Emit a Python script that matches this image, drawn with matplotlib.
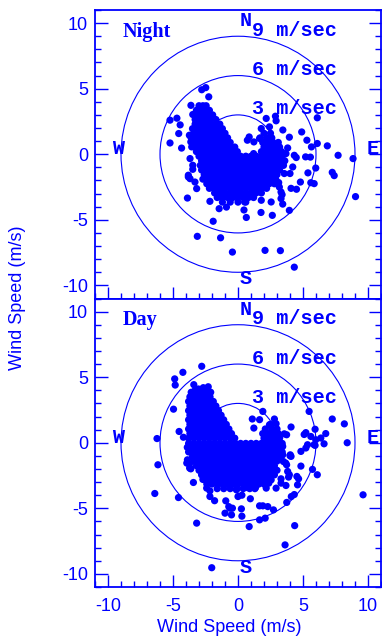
import matplotlib
matplotlib.use("Agg")
import matplotlib.pyplot as plt
from matplotlib.patches import Circle
from matplotlib.ticker import MultipleLocator

plt.rcParams['axes.unicode_minus'] = False
plt.rcParams['font.family'] = ['Liberation Sans', 'DejaVu Sans']

BLUE = '#0000ff'

# ---------------- data ----------------
ring_radii = [3, 6, 9]
ring_labels = ['3 m/sec', '6 m/sec', '9 m/sec']
panel_names = ['Night', 'Day']
compass = ['N', 'S', 'E', 'W']
axis_ticks = [-10, -5, 0, 5, 10]
axis_label = 'Wind Speed (m/s)'

# Night: dense core, read row by row (y of row, x values of dots in row)
night_core_y = [3.7, 3.35, 3.0, 2.65, 2.3, 1.95, 1.6, 1.25, 0.9, 0.55, 0.2,
                -0.15, -0.5, -0.85, -1.2, -1.55, -1.9, -2.25, -2.6, -2.95, -3.3, -3.65]
night_core_x = [
    [-3.0, -2.7, -2.45],
    [-3.2, -2.85, -2.5, -2.2],
    [-3.1, -2.7, -2.3, -1.95],
    [-3.3, -2.9, -2.5, -2.1, -1.7],
    [-3.3, -2.9, -2.5, -2.1, -1.7, -1.4],
    [-3.5, -3.1, -2.7, -2.3, -1.9, -1.5, -1.2],
    [-3.4, -3.0, -2.6, -2.2, -1.8, -1.4, -1.0, 2.0, 2.5],
    [-3.6, -3.2, -2.8, -2.4, -2.0, -1.6, -1.2, -0.8, 1.7, 2.2, 2.6],
    [-3.4, -3.0, -2.6, -2.2, -1.8, -1.4, -1.0, -0.6, 1.9, 2.3, 2.7, 3.1],
    [-3.3, -2.9, -2.5, -2.1, -1.7, -1.3, -0.9, -0.55, -0.25, 2.0, 2.4, 2.8, 3.2],
    [-3.2, -2.8, -2.4, -2.0, -1.6, -1.2, -0.8, -0.4, -0.05, 1.8, 2.2, 2.6, 3.0, 3.35],
    [-3.0, -2.6, -2.2, -1.8, -1.4, -1.0, -0.6, -0.2, 0.2, 0.6, 1.0, 1.4, 1.8, 2.2, 2.6, 3.0, 3.4],
    [-2.8, -2.4, -2.0, -1.6, -1.2, -0.8, -0.4, 0.0, 0.4, 0.8, 1.2, 1.6, 2.0, 2.4, 2.8, 3.2, 3.6],
    [-2.9, -2.5, -2.1, -1.7, -1.3, -0.9, -0.5, -0.1, 0.3, 0.7, 1.1, 1.5, 1.9, 2.3, 2.7, 3.1, 3.5],
    [-2.8, -2.4, -2.0, -1.6, -1.2, -0.8, -0.4, 0.0, 0.4, 0.8, 1.2, 1.6, 2.0, 2.4, 2.8, 3.2],
    [-2.6, -2.2, -1.8, -1.4, -1.0, -0.6, -0.2, 0.2, 0.6, 1.0, 1.4, 1.8, 2.2, 2.6, 3.0],
    [-2.7, -2.3, -1.9, -1.5, -1.1, -0.7, -0.3, 0.1, 0.5, 0.9, 1.3, 1.7, 2.1, 2.5, 2.9],
    [-2.4, -2.0, -1.6, -1.2, -0.8, -0.4, 0.0, 0.4, 0.8, 1.2, 1.6, 2.0, 2.4, 2.8],
    [-2.2, -1.8, -1.4, -1.0, -0.6, -0.2, 0.2, 0.6, 1.0, 1.4, 1.8, 2.2],
    [-1.8, -1.4, -1.0, -0.6, -0.2, 0.2, 0.6, 1.0, 1.4, 1.8],
    [-1.6, -1.2, -0.8, -0.4, 0.0, 0.4, 0.8, 1.2],
    [-1.2, -0.6, 0.0, 0.6],
]
# Night: scattered dots
night_x = [-2.79, -2.48, -2.25, -3.62, -5.23, -4.70, -4.45, -4.56, -5.23, -4.34, -3.69, -3.48,
           -3.48, -3.74, -3.63, -3.56,
           2.17, 2.88, 2.93, 1.79, 2.42, 3.45, 3.95, 0.86, 1.66, 1.22, 0.72, 1.20,
           6.10, 4.90, 5.30, 5.65, 6.10, 6.87, 7.70, 8.85, 4.33, 4.48, 5.20, 5.57, 5.98,
           3.82, 3.69, 3.31,
           4.21, 4.00, 3.56, 3.13, 5.38, 7.25, 7.40, 9.04, 4.08, 4.50, 4.80, 5.60, 5.86,
           3.31, 3.39, 3.44, 3.95, 2.64, 1.77, 0.64, 0.46, -1.91, -3.13, -1.34, -0.43,
           2.08, 3.26, 4.33, 2.55, 1.79, 0.51, -0.89, -1.45, -2.16, 3.18, 3.31,
           -3.89, -3.82, -3.69, -3.31, -3.18, -3.48, -3.82]
night_y = [4.92, 5.08, 4.38, 3.73, 2.60, 2.75, 2.24, 1.58, 0.86, 0.47, -0.33, -0.84,
           3.03, 1.45, 0.94, 0.56,
           2.73, 2.90, 2.55, 1.96, 2.09, 1.85, 1.30, 1.32, 1.20, 0.94, 1.07, 0.05,
           2.78, 1.70, 1.07, 0.56, 0.82, 0.64, -0.08, -0.33, -0.08, -0.25, -0.20, -0.22, -1.05,
           0.48, 0.05, 0.18,
           -0.97, -1.47, -1.47, -2.16, -1.42, -1.38, -1.63, -3.23, -2.60, -2.67, -2.12, -2.17, -2.24,
           -3.38, -3.08, -3.80, -4.28, -4.66, -4.44, -4.82, -4.25, -5.11, -6.26, -6.37, -7.46,
           -7.33, -7.35, -8.61, -3.64, -3.51, -3.64, -4.03, -4.15, -3.59, -2.50, -2.88,
           -3.34, -1.73, -1.86, -2.12, -2.62, -1.15, -1.60]

# Day: dense core
day_core_y = [3.85, 3.5, 3.15, 2.8, 2.45, 2.1, 1.75, 1.4, 1.05, 0.7, 0.35, -0.05,
              -0.35, -0.7, -1.05, -1.4, -1.75, -2.1, -2.45, -2.8, -3.15, -3.5]
day_core_x = [
    [-3.6, -3.2, -2.8, -2.4, -2.1],
    [-3.7, -3.3, -2.9, -2.5, -2.15],
    [-3.8, -3.4, -3.0, -2.6, -2.2, -1.9],
    [-3.7, -3.3, -2.9, -2.5, -2.1, -1.7],
    [-3.8, -3.4, -3.0, -2.6, -2.2, -1.8, -1.5],
    [-3.7, -3.3, -2.9, -2.5, -2.1, -1.7, -1.3],
    [-3.8, -3.4, -3.0, -2.6, -2.2, -1.8, -1.4, -1.1],
    [-3.7, -3.3, -2.9, -2.5, -2.1, -1.7, -1.3, -0.9, 2.5],
    [-3.8, -3.4, -3.0, -2.6, -2.2, -1.8, -1.4, -1.0, -0.7, 2.1, 2.6, 3.0],
    [-3.7, -3.3, -2.9, -2.5, -2.1, -1.7, -1.3, -0.9, -0.5, 1.9, 2.3, 2.7, 3.1],
    [-3.8, -3.4, -3.0, -2.6, -2.2, -1.8, -1.4, -1.0, -0.6, -0.25, 2.0, 2.4, 2.8, 3.2],
    [-3.8, -3.4, -3.0, -2.6, -2.2, -1.8, -1.4, -1.0, -0.6, -0.2, 0.2, 0.6, 1.0, 1.4, 1.8, 2.2, 2.6, 3.0, 3.4],
    [-3.9, -3.5, -3.1, -2.7, -2.3, -1.9, -1.5, -1.1, -0.7, -0.3, 0.1, 0.5, 0.9, 1.3, 1.7, 2.1, 2.5, 2.9, 3.3],
    [-3.8, -3.4, -3.0, -2.6, -2.2, -1.8, -1.4, -1.0, -0.6, -0.2, 0.2, 0.6, 1.0, 1.4, 1.8, 2.2, 2.6, 3.0, 3.4],
    [-3.5, -3.1, -2.7, -2.3, -1.9, -1.5, -1.1, -0.7, -0.3, 0.1, 0.5, 0.9, 1.3, 1.7, 2.1, 2.5, 2.9, 3.3],
    [-3.4, -3.0, -2.6, -2.2, -1.8, -1.4, -1.0, -0.6, -0.2, 0.2, 0.6, 1.0, 1.4, 1.8, 2.2, 2.6, 3.0],
    [-3.2, -2.8, -2.4, -2.0, -1.6, -1.2, -0.8, -0.4, 0.0, 0.4, 0.8, 1.2, 1.6, 2.0, 2.4, 2.8],
    [-3.0, -2.6, -2.2, -1.8, -1.4, -1.0, -0.6, -0.2, 0.2, 0.6, 1.0, 1.4, 1.8, 2.2, 2.6, 3.0],
    [-2.8, -2.4, -2.0, -1.6, -1.2, -0.8, -0.4, 0.0, 0.4, 0.8, 1.2, 1.6, 2.0, 2.4, 2.8],
    [-2.7, -2.3, -1.9, -1.5, -1.1, -0.7, -0.3, 0.1, 0.5, 0.9, 1.3, 1.7, 2.1, 2.5],
    [-2.4, -2.0, -1.6, -1.2, -0.8, -0.4, 0.0, 0.4, 0.8, 1.2, 1.6, 2.0],
    [-1.6, -1.1, -0.6, -0.1, 0.4, 0.9, 1.3],
]
# Day: scattered dots
day_x = [-2.79, -4.24, -4.87, -4.83, -3.40, -3.05, -2.67, -2.29, -3.30,
         -4.96, -4.53, -4.20, -6.23,
         -6.16, -6.40, -4.58, -3.18, -3.43, -3.94, -3.72, -3.89, -3.74, -3.63, -2.02,
         0.86, 1.66, 2.09, 3.62, 4.36, 9.62, 0.26, 0.30,
         -0.94, -0.63, -0.50, -1.00, -1.80, 1.66, 1.91, 2.29, 2.73, 0.95, 0.00, 0.30,
         3.75, 4.10, 4.33, 4.58, 4.53, 4.84, 5.73, 6.10, 3.44, 4.00, 3.67, 3.74, 3.89,
         2.93, 2.37, 2.55, 3.31, -0.71, -0.43, -2.16, -2.16, -2.41, 3.69, 2.17, 1.35,
         0.64, -0.12, 3.82, 3.95, 3.31, 4.66, 4.08, 3.49,
         1.91, 1.10, 1.66, 1.22, 2.80, 2.42, 2.93, 4.08, 3.56, 3.74, 5.47, 7.25, 8.18,
         5.93, 5.22, 5.60, 5.09, 6.37, 6.75, 6.62, 5.98, 8.40, 5.93, 5.35, 4.84, 5.22,
         4.02, 3.44, 5.85]
day_y = [5.83, 5.37, 4.87, 4.40, 4.43, 4.10, 4.20, 4.27, 4.00,
         2.56, 0.86, 0.42, 0.32,
         -1.68, -3.87, -4.18, -6.13, -3.03, -1.55, -1.93, -1.30, -1.63, -1.99, -9.53,
         -6.39, -5.88, -5.75, -7.79, -6.32, -3.97, -5.04, -5.60,
         -4.43, -4.99, -5.50, -5.37, -4.42, -4.81, -4.81, -4.87, -5.12, -4.27, -4.10, -4.00,
         -4.55, -4.10, -3.95, -3.21, -2.57, -1.78, -2.03, -2.44, -0.92, -0.99, -1.55, -1.68, -2.62,
         -3.46, -3.08, -2.83, -3.08, -4.87, -4.99, -4.10, -3.67, -3.46, -3.26, -3.46, -3.41,
         -3.41, -3.59, -2.19, -2.44, -2.75, -2.75, -1.04, -1.43,
         2.39, 1.81, 1.76, 1.12, 1.81, 1.37, 1.45, 1.20, 0.68, 0.61, 2.39, 1.81, 1.44,
         1.03, 0.77, 0.48, 0.63, 0.36, 0.70, -0.08, 0.23, 0.00, -0.20, -0.15, -0.66, -0.40,
         -0.92, -0.28, -0.15]


def flatten(rows_y, rows_x):
    xs, ys = [], []
    for yv, row in zip(rows_y, rows_x):
        for xv in row:
            xs.append(xv)
            ys.append(yv)
    return xs, ys


panels = [
    (panel_names[0], flatten(night_core_y, night_core_x), (night_x, night_y)),
    (panel_names[1], flatten(day_core_y, day_core_x), (day_x, day_y)),
]

# ---------------- figure ----------------
fig = plt.figure(figsize=(3.82, 6.42), dpi=100)
W, H = 382.0, 642.0
ax_top = fig.add_axes([95 / W, 1 - 298.5 / H, 286 / W, 288.5 / H])
ax_bot = fig.add_axes([95 / W, 1 - 587 / H, 286 / W, 288.5 / H])

mono_fam = ['Liberation Mono', 'DejaVu Sans Mono']
name_style = dict(family=['Liberation Serif', 'DejaVu Serif'], weight='bold',
                  size=14.5, color=BLUE)
lab_style = dict(family=mono_fam, weight='bold', size=14.5, color=BLUE)

for ax, (name, (cx, cy), (sx, sy)) in zip([ax_top, ax_bot], panels):
    ax.set_xlim(-11, 11)
    ax.set_ylim(-11, 11)
    for r in ring_radii:
        ax.add_patch(Circle((0, 0), r, fill=False, ec=BLUE, lw=0.8, zorder=2))
    ax.scatter(cx, cy, s=27, c=BLUE, edgecolors='none', zorder=3)
    ax.scatter(sx, sy, s=27, c=BLUE, edgecolors='none', zorder=3)

    ax.text(-8.9, 8.95, name, ha='left', va='baseline', **name_style)
    ax.text(0.13, 9.75, compass[0], ha='left', va='baseline', **lab_style)
    ax.text(0.13, -9.92, compass[1], ha='left', va='baseline', **lab_style)
    ax.text(9.92, 0.0, compass[2], ha='left', va='baseline', **lab_style)
    ax.text(-9.66, 0.0, compass[3], ha='left', va='baseline', **lab_style)
    for r, lab in zip(ring_radii, ring_labels):
        ax.text(1.07, r + 0.04, lab, ha='left', va='baseline', **lab_style)

    ax.xaxis.set_major_locator(MultipleLocator(5))
    ax.yaxis.set_major_locator(MultipleLocator(5))
    ax.xaxis.set_minor_locator(MultipleLocator(1))
    ax.yaxis.set_minor_locator(MultipleLocator(1))
    ax.set_xticks(axis_ticks)
    ax.set_yticks(axis_ticks)
    ax.tick_params(which='both', direction='in', colors=BLUE, left=True,
                   right=True, top=False, bottom=True, labelsize=13, width=1.0)
    ax.tick_params(which='major', length=9, pad=5)
    ax.tick_params(which='minor', length=4.5)
    ax.tick_params(axis='x', which='major', pad=8)
    for sp in ax.spines.values():
        sp.set_color(BLUE)
        sp.set_linewidth(1.3)

ax_top.tick_params(axis='x', labelbottom=False)

fig.text(229 / W, 1 - 628 / H, axis_label, ha='center', va='center',
         fontsize=13, color=BLUE)
fig.text(18 / W, 1 - 298 / H, axis_label, ha='center', va='center',
         rotation=90, fontsize=13, color=BLUE)

fig.savefig('out.png', dpi=100)
